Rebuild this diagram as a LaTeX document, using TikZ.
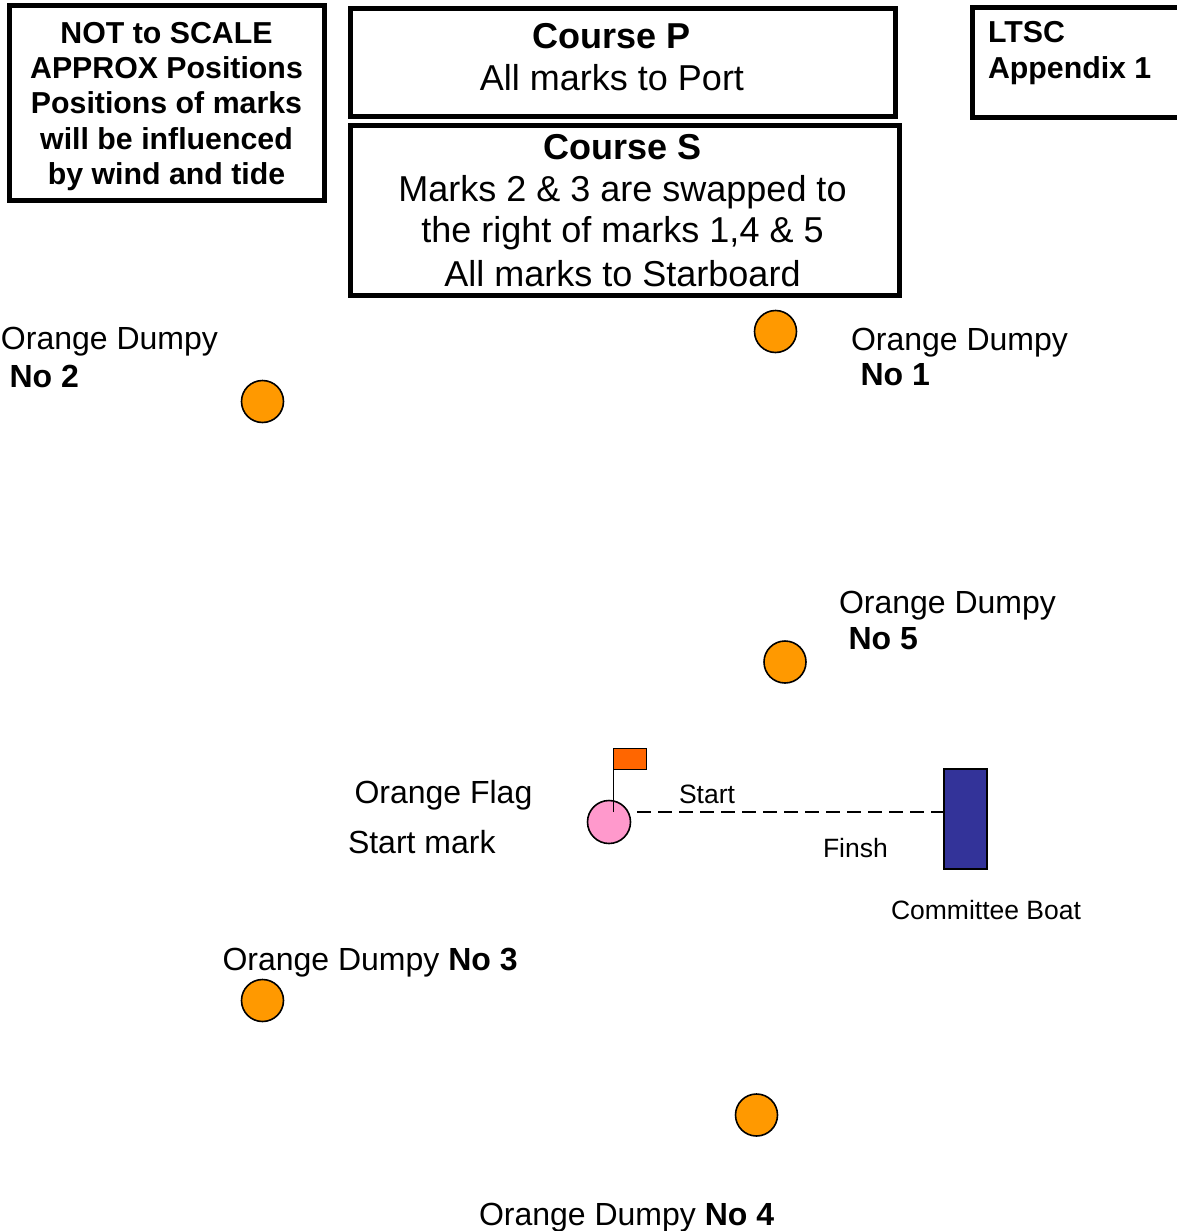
\documentclass[tikz,border=0pt]{standalone}
\usepackage{fontspec}
\setmainfont{Liberation Sans}
\definecolor{dumpyorange}{HTML}{FF9900}
\definecolor{startpink}{HTML}{FF99CC}
\definecolor{flagorange}{HTML}{FF6600}
\definecolor{boatblue}{HTML}{333399}
\begin{document}
\begin{tikzpicture}[x=1pt,y=-1pt,
  every node/.style={inner sep=0pt,outer sep=0pt},
  maptxt/.style={font=\fontsize{32}{36}\selectfont,anchor=base west},
  coursetxt/.style={font=\fontsize{36}{42}\selectfont,anchor=base},
  notetxt/.style={font=\fontsize{30.3}{35}\selectfont\bfseries,anchor=base},
  smalltxt/.style={font=\fontsize{26.5}{30}\selectfont,anchor=base west},
  frame/.style={draw=black,line width=5pt},
  dumpy/.style={circle,draw=black,line width=1.6pt,fill=dumpyorange,minimum size=42pt},
  startbuoy/.style={circle,draw=black,line width=1.6pt,fill=startpink,minimum size=43pt},
  flagbox/.style={rectangle,draw=black,line width=1pt,fill=flagorange,minimum width=32.5pt,minimum height=21pt},
  boatbox/.style={rectangle,draw=black,line width=1.5pt,fill=boatblue,minimum width=43pt,minimum height=100pt},
  lineconn/.style={draw=black,line width=2pt,dash pattern=on 14pt off 7pt},
  polestyle/.style={draw=black,line width=1.5pt}
]
\useasboundingbox (0,0) rectangle (1176,1231);
\fill[white] (0,0) rectangle (1176,1231);

% boxes
\draw[frame] (9.5,5.5) rectangle (324,200.5);
\draw[frame] (350.5,8.5) rectangle (895,116);
\draw[frame] (350.5,125.5) rectangle (899.5,295.5);
\draw[frame] (972,8) rectangle (1190,117);

% note box text
\node[notetxt] (n1) at (166.5,43.5) {NOT to SCALE};
\node[notetxt] (n2) at (166.5,78.5) {APPROX Positions};
\node[notetxt] (n3) at (166.5,113.5) {Positions of marks};
\node[notetxt] (n4) at (166.5,149) {will be influenced};
\node[notetxt] (n5) at (166.5,184.5) {by wind and tide};

% course P
\node[coursetxt] (p1) at (612,48.5) {\bfseries Course P};
\node[coursetxt] (p2) at (612,90) {All marks to Port};
% course S
\node[coursetxt] (s1) at (622.5,159.5) {\bfseries Course S};
\node[coursetxt] (s2) at (622.5,201) {Marks 2 \& 3 are swapped to};
\node[coursetxt] (s3) at (622.5,242) {the right of marks 1,4 \& 5};
\node[coursetxt] (s4) at (622.5,286) {All marks to Starboard};

% LTSC
\node[notetxt,anchor=base west] (l1) at (988,43) {LTSC};
\node[notetxt,anchor=base west] (l2) at (988,78) {Appendix 1};

% marks
\node[dumpy] (m1) at (775.5,331.5) {};
\node[dumpy] (m2) at (262.5,401.5) {};
\node[dumpy] (m5) at (785,662) {};
\node[dumpy] (m3) at (262.5,1000.5) {};
\node[dumpy] (m4) at (756.5,1115) {};

% mark labels
\node[maptxt] (t2a) at (1,349.5) {Orange Dumpy};
\node[maptxt] (t2b) at (9.5,387.5) {\bfseries No 2};
\node[maptxt] (t1a) at (851,350) {Orange Dumpy};
\node[maptxt] (t1b) at (860.5,385.5) {\bfseries No 1};
\node[maptxt] (t5a) at (839,613.5) {Orange Dumpy};
\node[maptxt] (t5b) at (848.5,649) {\bfseries No 5};
\node[maptxt] (t3) at (222.5,970.5) {Orange Dumpy \textbf{No 3}};
\node[maptxt] (t4) at (479,1225.5) {Orange Dumpy \textbf{No 4}};
\node[maptxt] (tf1) at (354.5,803.5) {Orange Flag};
\node[maptxt] (tf2) at (348,853.5) {Start mark};

% start line
\node[startbuoy] (start) at (609,822) {};
\node[flagbox] (flag) at (629.75,758.5) {};
\coordinate (polebase) at (613.5,812);
\draw[polestyle] (polebase) -- (flag.north west);
\node[boatbox] (boat) at (965.5,819) {};
\coordinate (lineS) at (637,812);
\coordinate (lineE) at (950,812);
\draw[lineconn] (lineS) -- (lineE);

\node[smalltxt] (st) at (679,803) {Start};
\node[smalltxt] (fi) at (823,857) {Finsh};
\node[smalltxt] (cb) at (891,919.5) {Committee Boat};
\end{tikzpicture}
\end{document}
